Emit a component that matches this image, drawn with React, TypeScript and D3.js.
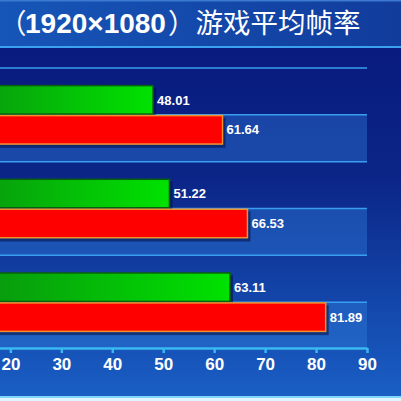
import React, { useEffect, useRef } from 'react';
import * as d3 from 'd3';

const categories = ['g1', 'g2', 'g3'];
const series = ['green', 'red'];
const greenValues = [48.01, 51.22, 63.11];
const redValues = [61.64, 66.53, 81.89];
// 0 and 10 fall left of the cropped picture
const tickValues = [20, 30, 40, 50, 60, 70, 80, 90];

const W = 401;
const H = 401;

const App: React.FC = () => {
  const svgRef = useRef<SVGSVGElement>(null);

  useEffect(() => {
    if (!svgRef.current) return;
    const svg = d3.select(svgRef.current);
    svg.selectAll('*').remove();

    const defs = svg.append('defs');
    const bg = defs.append('linearGradient').attr('id', 'bg').attr('x1', 0).attr('y1', 0).attr('x2', 0).attr('y2', 1);
    bg.append('stop').attr('offset', '0%').attr('stop-color', '#08167a');
    bg.append('stop').attr('offset', '45%').attr('stop-color', '#0b2688');
    bg.append('stop').attr('offset', '100%').attr('stop-color', '#1a60c6');

    const tg = defs.append('linearGradient').attr('id', 'tg').attr('x1', 0).attr('y1', 0).attr('x2', 1).attr('y2', 0);
    tg.append('stop').attr('offset', '0%').attr('stop-color', '#1656b8');
    tg.append('stop').attr('offset', '100%').attr('stop-color', '#113c9c');

    const gg = defs.append('linearGradient').attr('id', 'gg').attr('x1', 0).attr('y1', 0).attr('x2', 1).attr('y2', 0);
    gg.append('stop').attr('offset', '0%').attr('stop-color', '#0b8212');
    gg.append('stop').attr('offset', '100%').attr('stop-color', '#00e200');

    // background
    svg.append('rect').attr('x', 0).attr('y', 0).attr('width', W).attr('height', H).attr('fill', 'url(#bg)');

    // title band
    svg.append('rect').attr('x', 0).attr('y', 0).attr('width', W).attr('height', 46).attr('fill', 'url(#tg)');
    svg.append('rect').attr('x', 0).attr('y', 0).attr('width', W).attr('height', 1.5).attr('fill', '#3b7ad0');
    svg.append('rect').attr('x', 0).attr('y', 46).attr('width', W).attr('height', 2).attr('fill', '#3aa2ee');

    const title = svg.append('text').attr('y', 33).attr('fill', '#ffffff');
    title.append('tspan').attr('x', -1).attr('font-size', 27.5).attr('font-family', '"Noto Sans CJK SC"').text('（');
    title.append('tspan').attr('x', 25).attr('font-size', 28).attr('font-family', '"Liberation Sans", Arial')
      .attr('font-weight', 'bold').text('1920×1080');
    title.append('tspan').attr('x', 168).attr('font-size', 27.5).attr('font-family', '"Noto Sans CJK SC"')
      .text('）游戏平均帧率');

    // bottom border
    svg.append('rect').attr('x', 0).attr('y', 396).attr('width', W).attr('height', 2).attr('fill', '#80d8f6');
    svg.append('rect').attr('x', 0).attr('y', 398).attr('width', W).attr('height', 3).attr('fill', '#dff4ff');

    const x = d3.scaleLinear().domain([0, 90]).range([-91.5, 367]);
    const y0 = d3.scaleBand().domain(categories).range([68, 349]).paddingInner(0.36).paddingOuter(0.18);
    const y1 = d3.scaleBand().domain(series).range([0, y0.bandwidth()]);
    const step = y0.step();
    const x0 = x(0);
    const xEnd = x(90);

    // alternating bands and grid lines
    categories.forEach((c) => {
      const top = (y0(c) || 0) - y0.paddingOuter() * step;
      svg.append('rect').attr('x', x0).attr('y', top + step / 2).attr('width', xEnd - x0).attr('height', step / 2)
        .attr('fill', '#2f7fdc').attr('opacity', 0.4);
      [top, top + step / 2].forEach((ly) => {
        svg.append('line').attr('x1', x0).attr('x2', xEnd).attr('y1', ly).attr('y2', ly)
          .attr('stroke', '#3a9ef0').attr('stroke-width', 1.5);
      });
    });

    const rows = categories.map((c, i) => ({ c, green: greenValues[i], red: redValues[i] }));
    const fills: Record<string, string> = { green: 'url(#gg)', red: '#ff0000' };
    const strokes: Record<string, string> = { green: '#0a5e10', red: '#f2922e' };

    rows.forEach((r) => {
      const g = svg.append('g').attr('transform', `translate(0,${y0(r.c)})`);
      series.forEach((s) => {
        const v = (r as any)[s] as number;
        const by = y1(s) || 0;
        const bh = y1.bandwidth();
        g.append('rect').attr('x', x0 + 3).attr('y', by + 3).attr('width', x(v) - x0).attr('height', bh)
          .attr('fill', '#050f45').attr('opacity', 0.55);
        g.append('rect').attr('x', x0).attr('y', by + 0.75).attr('width', x(v) - x0).attr('height', bh - 1.5)
          .attr('fill', fills[s]).attr('stroke', strokes[s]).attr('stroke-width', 1.5);
        g.append('text').attr('x', x(v) + 4).attr('y', by + bh / 2).attr('dy', '0.36em')
          .attr('fill', '#ffffff').attr('font-family', '"Liberation Sans", Arial').attr('font-weight', 'bold')
          .attr('font-size', 13).text(v.toFixed(2));
      });
    });

    // x axis
    const axis = svg.append('g').attr('transform', 'translate(0,348)')
      .call(d3.axisBottom(x).tickValues(tickValues).tickSize(5).tickSizeOuter(0).tickPadding(5));
    axis.select('.domain').attr('stroke', '#3ab8f2').attr('stroke-width', 2.5);
    axis.selectAll('.tick line').attr('stroke', '#3ab8f2').attr('stroke-width', 2.5);
    axis.selectAll('.tick text').attr('fill', '#ffffff').attr('font-family', '"Liberation Sans", Arial')
      .attr('font-weight', 'bold').attr('font-size', 17);
  }, []);

  return (
    <svg ref={svgRef} width={W} height={H} style={{ position: 'absolute', left: 0, top: 0 }}></svg>
  );
};

export default App;
